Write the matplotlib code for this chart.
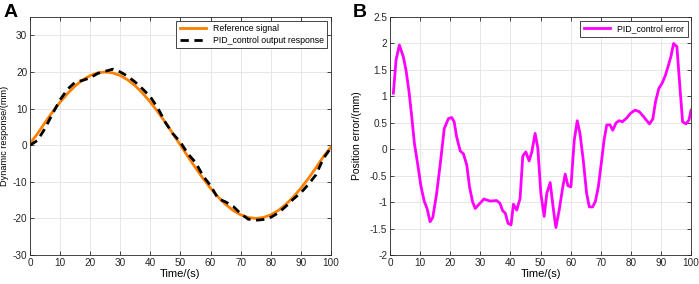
import matplotlib.pyplot as plt
import numpy as np

# panel A: reference signal and PID output
t_a = [0, 2.5, 5, 7.5, 10, 12.5, 15, 17.5, 20, 22.5, 25, 27.5, 30, 32.5, 35, 37.5, 40,
       42.5, 45, 47.5, 50, 52.5, 55, 57.5, 60, 62.5, 65, 67.5, 70, 72.5, 75, 77.5, 80,
       82.5, 85, 87.5, 90, 92.5, 95, 97.5, 100]
ref = [0.5, 3.13, 6.18, 9.08, 11.76, 14.14, 16.18, 17.82, 19.02, 19.75, 20.0, 19.75, 19.02,
       17.82, 16.18, 14.14, 11.76, 9.08, 6.18, 3.13, 0.0, -3.13, -6.18, -9.08, -11.76, -14.14,
       -16.18, -17.82, -19.02, -19.75, -20.0, -19.75, -19.02, -17.82, -16.18, -14.14, -11.76,
       -9.08, -6.18, -3.13, -0.5]
pid_out = [0.0, 1.3, 4.6, 8.6, 12.4, 15.3, 17.2, 17.7, 18.4, 19.6, 20.2, 20.75, 20.0, 18.8,
           17.2, 15.3, 13.2, 10.1, 6.2, 3.1, 0.8, -2.4, -4.7, -8.4, -11.05, -14.6, -15.5,
           -16.7, -18.7, -20.2, -20.5, -20.3, -19.7, -18.5, -16.7, -14.7, -13.0, -10.7, -8.1,
           -3.6, -0.7]

# panel B: position error
t_b = [1.1, 2.0, 3.1, 4.4, 5.3, 6.3, 7.2, 8.1, 9.1, 10.3, 11.4, 12.3, 13.3, 14.2, 15.5, 16.7,
       18.0, 19.4, 20.5, 21.3, 22.1, 23.3, 24.4, 25.5, 26.4, 27.4, 28.3, 29.9, 31.2, 33.2,
       35.4, 36.5, 37.4, 38.3, 39.2, 40.2, 41.0, 42.1, 43.2, 44.1, 45.1, 46.2, 47.1, 48.2,
       49.1, 50.1, 51.2, 52.1, 53.2, 54.3, 55.1, 56.2, 57.4, 58.2, 59.1, 60.1, 61.2, 62.2,
       63.1, 64.2, 65.3, 66.2, 67.3, 68.2, 69.2, 70.3, 71.1, 72.0, 73.1, 74.0, 75.1, 76.1,
       77.2, 78.6, 79.9, 81.4, 82.8, 84.2, 85.3, 86.2, 87.3, 88.2, 89.3, 90.4, 91.5, 92.5,
       93.3, 94.2, 95.3, 96.3, 97.2, 98.3, 99.3, 100.0]
err = [1.06, 1.69, 1.97, 1.75, 1.5, 1.09, 0.62, 0.11, -0.25, -0.71, -0.99, -1.12, -1.37, -1.29,
       -0.83, -0.27, 0.39, 0.58, 0.6, 0.52, 0.24, -0.03, -0.09, -0.3, -0.71, -0.99, -1.12,
       -1.02, -0.94, -0.98, -0.97, -1.02, -1.16, -1.21, -1.4, -1.43, -1.04, -1.15, -0.93,
       -0.13, -0.05, -0.22, -0.05, 0.3, 0.02, -0.83, -1.27, -0.83, -0.63, -1.15, -1.48, -1.15,
       -0.71, -0.47, -0.69, -0.71, 0.17, 0.54, 0.3, -0.21, -0.83, -1.09, -1.09, -0.99, -0.71,
       -0.21, 0.17, 0.46, 0.46, 0.36, 0.5, 0.54, 0.52, 0.59, 0.68, 0.74, 0.71, 0.62, 0.54,
       0.48, 0.57, 0.9, 1.15, 1.25, 1.4, 1.59, 1.75, 2.0, 1.94, 1.18, 0.52, 0.48, 0.55, 0.74]

plt.rcParams['font.family'] = ['Liberation Sans', 'DejaVu Sans']
plt.rcParams['axes.unicode_minus'] = False
fig = plt.figure(figsize=(6.99, 2.84), dpi=100)
ax1 = fig.add_axes([0.0429, 0.102, 0.4306, 0.838])
ax2 = fig.add_axes([0.558, 0.102, 0.4306, 0.838])

ax1.plot(t_a, ref, color='#ff8000', lw=2.0, label='Reference signal')
ax1.plot(t_a, pid_out, color='black', lw=2.0, ls=(0, (3, 2)), label='PID_control output response')
ax1.set_xlim(0, 100)
ax1.set_ylim(-30, 35)
ax1.set_yticks(np.arange(-30, 31, 10))
ax1.set_ylabel('Dynamic response/(mm)', fontsize=6.6)
ax1.yaxis.set_label_coords(-0.071, 0.5)

ax2.plot(t_b, err, color='#ff00ff', lw=2.0, label='PID_control error')
ax2.set_xlim(0, 100)
ax2.set_ylim(-2, 2.5)
ax2.set_yticks(np.arange(-2, 2.51, 0.5))
ax2.set_yticklabels(['-2', '-1.5', '-1', '-0.5', '0', '0.5', '1', '1.5', '2', '2.5'])
ax2.set_ylabel('Position error/(mm)', fontsize=7.5)
ax2.yaxis.set_label_coords(-0.093, 0.5)

for ax in (ax1, ax2):
    ax.set_xticks(np.arange(0, 101, 10))
    ax.set_xlabel('Time/(s)', fontsize=8, labelpad=1)
    ax.grid(True, color='#e3e3e3', lw=0.6)
    ax.set_axisbelow(True)
    ax.tick_params(direction='in', top=True, right=True, labelsize=7.2, length=3,
                   width=0.6, color='#262626', labelcolor='#262626', pad=2)
    for s in ax.spines.values():
        s.set_color('#262626')
        s.set_linewidth(0.6)
    leg = ax.legend(loc='upper right', fontsize=6.3, handlelength=3.0, fancybox=False,
                    framealpha=1, borderaxespad=0.4, borderpad=0.4, labelspacing=0.3)
    leg.get_frame().set_edgecolor('#262626')
    leg.get_frame().set_linewidth(0.6)

fig.text(0.005, 0.985, 'A', fontsize=14, fontweight='bold', va='top', ha='left')
fig.text(0.505, 0.985, 'B', fontsize=14, fontweight='bold', va='top', ha='left')

fig.savefig('out.png', dpi=100)
